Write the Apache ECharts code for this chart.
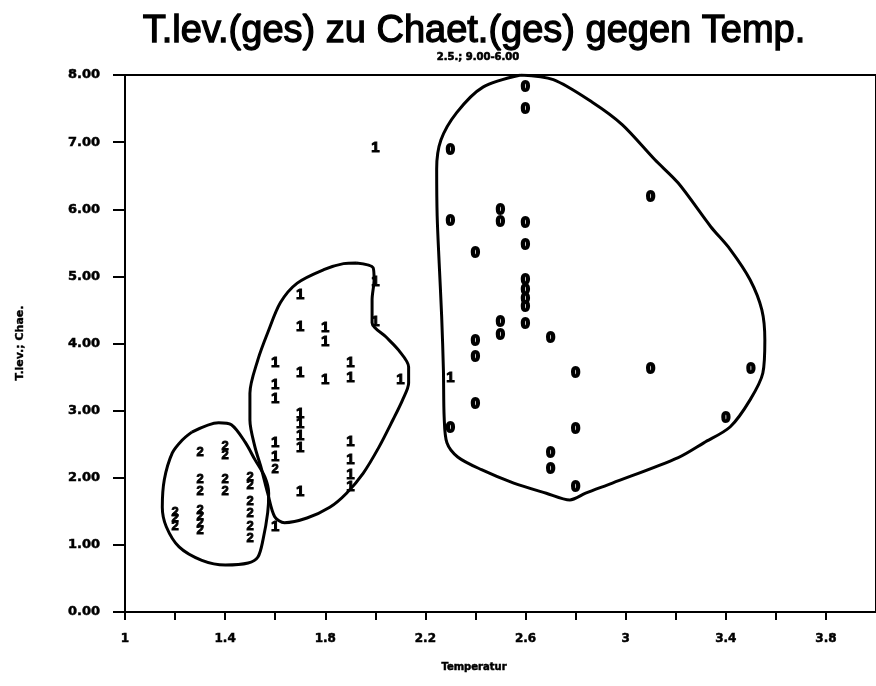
<!DOCTYPE html>
<html>
<head>
<meta charset="utf-8">
<script src="https://cdn.jsdelivr.net/npm/echarts@6/dist/echarts.min.js"></script>
<style>
  html, body { margin: 0; padding: 0; background: #fff; }
  #chart { width: 876px; height: 686px; }
</style>
</head>
<body>
<div id="chart"></div>
<script>
// Temperature vs. ratio, points marked by group code 0 / 1 / 2
const titleText = 'T.lev.(ges) zu Chaet.(ges) gegen Temp.';
const subTitleText = '2.5.; 9.00-6.00';
const xName = 'Temperatur';
const yName = 'T.lev.; Chae.';

const xLabelValues = [1, 1.4, 1.8, 2.2, 2.6, 3, 3.4, 3.8];
const yLabelValues = [0, 1, 2, 3, 4, 5, 6, 7, 8];

// group "0"
const group0 = [
  [2.6, 7.82], [2.6, 7.5], [2.3, 6.89], [2.3, 5.83], [2.5, 5.99], [2.5, 5.81],
  [2.6, 5.8], [2.4, 5.35], [2.6, 5.47], [2.6, 4.95], [2.6, 4.8], [2.6, 4.67],
  [2.6, 4.55], [2.6, 4.29], [2.5, 4.32], [2.5, 4.13], [2.4, 4.04], [2.4, 3.8],
  [2.7, 4.08], [2.8, 3.56], [2.4, 3.1], [2.3, 2.74], [2.8, 2.73], [2.7, 2.37],
  [2.7, 2.13], [2.8, 1.86], [3.1, 6.18], [3.1, 3.62], [3.5, 3.62], [3.4, 2.89]
];

// group "1"
const group1 = [
  [2.0, 6.91], [2.0, 4.92], [2.0, 4.32], [1.7, 4.72], [1.7, 4.25], [1.8, 4.23],
  [1.8, 4.02], [1.6, 3.71], [1.6, 3.38], [1.6, 3.17], [1.7, 3.56], [1.8, 3.46],
  [1.9, 3.71], [1.9, 3.49], [2.1, 3.46], [2.3, 3.49], [1.7, 2.95], [1.7, 2.8],
  [1.7, 2.62], [1.7, 2.45], [1.6, 2.52], [1.6, 2.31], [1.9, 2.53], [1.9, 2.27],
  [1.9, 2.04], [1.9, 1.86], [1.7, 1.79], [1.6, 1.27]
];

// group "2"
const group2 = [
  [1.3, 2.37], [1.4, 2.46], [1.4, 2.34], [1.3, 1.97], [1.3, 1.79], [1.4, 1.97],
  [1.4, 1.79], [1.5, 2.01], [1.5, 1.89], [1.5, 1.64], [1.5, 1.47], [1.5, 1.27],
  [1.5, 1.1], [1.2, 1.49], [1.2, 1.4], [1.2, 1.27], [1.3, 1.52], [1.3, 1.42],
  [1.3, 1.32], [1.3, 1.22], [1.6, 2.12]
];

// hand-drawn outlines around each group
const outline2 = [
  [1.267, 2.68], [1.374, 2.82], [1.425, 2.79], [1.480, 2.53], [1.519, 2.27],
  [1.559, 2.01], [1.574, 1.77], [1.570, 1.48], [1.551, 1.07], [1.531, 0.82],
  [1.492, 0.73], [1.401, 0.70], [1.307, 0.77], [1.216, 0.97], [1.165, 1.27],
  [1.149, 1.56], [1.157, 1.97], [1.189, 2.37], [1.228, 2.56], [1.267, 2.68]
];
const outline1 = [
  [1.924, 5.20], [1.991, 5.13], [1.995, 4.95], [1.987, 4.65], [1.987, 4.31],
  [2.042, 4.10], [2.093, 3.90], [2.133, 3.65], [2.133, 3.41], [2.109, 3.16],
  [2.070, 2.86], [2.015, 2.46], [1.952, 2.07], [1.885, 1.77], [1.818, 1.56],
  [1.727, 1.40], [1.637, 1.33], [1.598, 1.42], [1.570, 1.77], [1.543, 2.16],
  [1.519, 2.46], [1.499, 2.86], [1.499, 3.26], [1.531, 3.76], [1.570, 4.16],
  [1.621, 4.61], [1.688, 4.90], [1.794, 5.10], [1.873, 5.19], [1.924, 5.20]
];
const outline0 = [
  [2.581, 8.00], [2.711, 7.93], [2.868, 7.59], [2.986, 7.26], [3.116, 6.74],
  [3.210, 6.39], [3.340, 5.74], [3.418, 5.40], [3.497, 4.95], [3.544, 4.50],
  [3.556, 4.05], [3.548, 3.56], [3.497, 3.16], [3.418, 2.76], [3.312, 2.52],
  [3.210, 2.30], [2.947, 1.92], [2.840, 1.77], [2.777, 1.67], [2.683, 1.77],
  [2.553, 1.92], [2.424, 2.12], [2.329, 2.31], [2.286, 2.52], [2.275, 2.90],
  [2.272, 3.60], [2.265, 4.40], [2.255, 5.20], [2.247, 5.90],
  [2.245, 6.60], [2.262, 7.03], [2.325, 7.44], [2.430, 7.82],
  [2.581, 8.00]
];

const INK = '#000';

function codeSeries(name, data, code, size, border) {
  return {
    name: name,
    type: 'scatter',
    data: data,
    symbol: 'circle',
    symbolSize: 2,
    itemStyle: { color: 'rgba(0,0,0,0)' },
    z: 5,
    label: {
      show: true,
      position: 'inside',
      formatter: code,
      color: INK,
      opacity: 1,
      fontFamily: 'Liberation Sans',
      fontWeight: 'bold',
      fontSize: size,
      textBorderColor: INK,
      textBorderWidth: border
    },
    labelLayout: { hideOverlap: false },
    emphasis: { disabled: true }
  };
}

function outlineSeries(name, data) {
  return {
    name: name,
    type: 'line',
    data: data,
    smooth: 0.3,
    symbol: 'none',
    lineStyle: { color: INK, width: 3 },
    z: 3,
    emphasis: { disabled: true }
  };
}

const chart = echarts.init(document.getElementById('chart'), null, { renderer: 'canvas' });

chart.setOption({
  backgroundColor: '#fff',
  animation: false,
  grid: {
    left: 125, right: -12, top: 75, bottom: 74,
    show: true, borderColor: INK, borderWidth: 2,
    containLabel: false
  },
  xAxis: {
    type: 'value',
    min: 1, max: 4, interval: 0.2,
    splitLine: { show: false },
    axisLine: { onZero: false, lineStyle: { color: INK, width: 2 } },
    axisTick: { length: 8, lineStyle: { color: INK, width: 2 } },
    axisLabel: {
      margin: 21,
      color: INK,
      fontFamily: 'DejaVu Sans',
      fontWeight: 'bold',
      fontSize: 12,
      textBorderColor: INK,
      textBorderWidth: 0.5,
      showMaxLabel: false,
      formatter: function (v) {
        const hit = xLabelValues.find(function (t) { return Math.abs(t - v) < 1e-6; });
        return hit === undefined ? '' : String(hit);
      }
    }
  },
  yAxis: {
    type: 'value',
    min: 0, max: 8, interval: 1,
    splitLine: { show: false },
    axisLine: { onZero: false, lineStyle: { color: INK, width: 2 } },
    axisTick: { length: 12, lineStyle: { color: INK, width: 2 } },
    axisLabel: {
      margin: 25,
      color: INK,
      fontFamily: 'DejaVu Sans',
      fontWeight: 'bold',
      fontSize: 13,
      textBorderColor: INK,
      textBorderWidth: 0.5,
      formatter: function (v) {
        const hit = yLabelValues.find(function (t) { return Math.abs(t - v) < 1e-6; });
        return hit === undefined ? '' : hit.toFixed(2);
      }
    }
  },
  graphic: [
    {
      type: 'text', x: 474, y: 32,
      style: {
        text: titleText, fill: INK, align: 'center', verticalAlign: 'middle',
        font: 'normal 38px "Liberation Sans"', stroke: INK, lineWidth: 1.3
      }
    },
    {
      type: 'text', x: 478, y: 57,
      style: {
        text: subTitleText, fill: INK, align: 'center', verticalAlign: 'middle',
        font: 'bold 10px "DejaVu Sans"', stroke: INK, lineWidth: 0.6
      }
    },
    {
      type: 'text', x: 474, y: 667,
      style: {
        text: xName, fill: INK, align: 'center', verticalAlign: 'middle',
        font: 'bold 10px "DejaVu Sans"', stroke: INK, lineWidth: 0.5
      }
    },
    {
      type: 'text', x: 20, y: 343, rotation: Math.PI / 2,
      style: {
        text: yName, fill: INK, align: 'center', verticalAlign: 'middle',
        font: 'bold 11px "DejaVu Sans"', stroke: INK, lineWidth: 0.4
      }
    }
  ],
  series: [
    outlineSeries('outline2', outline2),
    outlineSeries('outline1', outline1),
    outlineSeries('outline0', outline0),
    codeSeries('0', group0, '0', 15, 2.2),
    codeSeries('1', group1, '1', 15, 1),
    codeSeries('2', group2, '2', 13, 0.9)
  ]
});
</script>
</body>
</html>
